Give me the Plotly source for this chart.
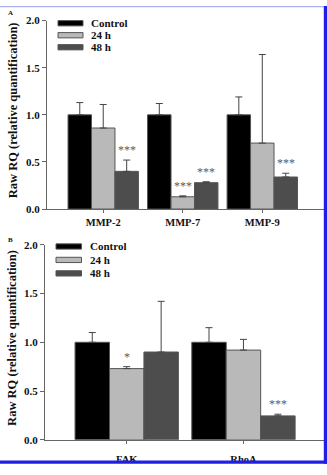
import plotly.graph_objects as go

W, H = 327, 475

# ---------------- data ----------------
series_names = ["Control", "24 h", "48 h"]
series_colors = ["#000000", "#b9b9b9", "#4d4d4d"]

cats_a = ["MMP-2", "MMP-7", "MMP-9"]
vals_a = [[1.00, 1.00, 1.00], [0.86, 0.13, 0.70], [0.40, 0.28, 0.34]]
errs_a = [[0.13, 0.12, 0.19], [0.25, 0.01, 0.94], [0.12, 0.01, 0.04]]
sig_a = [["", "", ""], ["", "***", ""], ["***", "***", "***"]]

cats_b = ["FAK", "RhoA"]
vals_b = [[1.00, 1.00], [0.73, 0.92], [0.90, 0.245]]
errs_b = [[0.10, 0.15], [0.02, 0.11], [0.52, 0.017]]
sig_b = [["", ""], ["*", ""], ["", "***"]]

yticks = [0, 0.5, 1.0, 1.5, 2.0]
ytitle = "Raw RQ (relative quantification)"
panel_labels = ["A", "B"]

FONT = "Liberation Serif"
AXC = "#666666"


def px(x):
    return x / W


def py(y):
    return 1 - y / H


fig = go.Figure()
annotations = []
shapes = []

bargap = 0.115
bw = (1 - bargap) / 3

panels = [
    dict(cats=cats_a, vals=vals_a, errs=errs_a, sig=sig_a, xa="x", ya="y"),
    dict(cats=cats_b, vals=vals_b, errs=errs_b, sig=sig_b, xa="x2", ya="y2"),
]

for p in panels:
    for i, name in enumerate(series_names):
        fig.add_trace(go.Bar(
            x=p["cats"], y=p["vals"][i], name=name,
            xaxis=p["xa"], yaxis=p["ya"], showlegend=False,
            marker=dict(color=series_colors[i], line=dict(color="#555555", width=1)),
            error_y=dict(type="data", symmetric=False, array=p["errs"][i],
                         arrayminus=[0] * len(p["cats"]), color="#444444",
                         thickness=1, width=3.5),
        ))
        for j, c in enumerate(p["cats"]):
            s = p["sig"][i][j]
            if s:
                annotations.append(dict(
                    x=j + (i - 1) * bw, y=p["vals"][i][j] + p["errs"][i][j],
                    xref=p["xa"], yref=p["ya"], text=s, showarrow=False,
                    yanchor="bottom", yshift=1,
                    font=dict(family=FONT, size=12, color="#5a5a5a")))

axis_common = dict(showline=True, linecolor=AXC, linewidth=1, showgrid=False,
                   zeroline=False, ticks="outside", tickcolor=AXC,
                   tickfont=dict(family=FONT, size=11, color="#111111", weight="bold"))

fig.update_layout(
    width=W, height=H, margin=dict(l=0, r=0, t=0, b=0),
    paper_bgcolor="white", plot_bgcolor="white",
    barmode="group", bargap=bargap, bargroupgap=0,
    xaxis=dict(domain=[px(47), px(324)], anchor="y", type="category",
               range=[-0.707, 2.776], ticklen=3, **axis_common),
    yaxis=dict(domain=[py(208.3), py(15)], anchor="x", range=[0, 2],
               tickvals=yticks, tickformat=".1f", ticklen=4, **axis_common),
    xaxis2=dict(domain=[px(45), px(324)], anchor="y2", type="category",
                range=[-0.70, 1.69], ticklen=3, **axis_common),
    yaxis2=dict(domain=[py(445), py(245)], anchor="x2", range=[0, 2],
                tickvals=yticks, tickformat=".1f", ticklen=4, **axis_common),
)
fig.update_xaxes(tickfont=dict(family=FONT, size=10.5, color="#111111", weight="bold"))
fig.update_layout(xaxis=dict(ticklabelstandoff=0), xaxis2=dict(ticklabelstandoff=7))

# y-axis titles
for yc in (107.5, 341):
    annotations.append(dict(x=px(12.5), y=py(yc), xref="paper", yref="paper",
                            xanchor="center", yanchor="middle",
                            text=ytitle, textangle=-90, showarrow=False,
                            font=dict(family=FONT, size=12.5, color="#111111", weight="bold")))

# panel labels
for lab, (lx, ly) in zip(panel_labels, [(11, 7), (10, 240)]):
    annotations.append(dict(x=px(lx), y=py(ly), xref="paper", yref="paper",
                            xanchor="center", yanchor="middle",
                            text=lab, showarrow=False,
                            font=dict(family=FONT, size=7, color="#111111", weight="bold")))

# manual legends
for (x0, x1, ys) in [(58, 83, [17.7, 30, 42.3]), (56, 81.5, [246.7, 260.5, 274.3])]:
    for i, name in enumerate(series_names):
        shapes.append(dict(type="rect", xref="paper", yref="paper",
                           x0=px(x0), x1=px(x1), y0=py(ys[i] + 2.7), y1=py(ys[i] - 2.7),
                           fillcolor=series_colors[i], line=dict(color="#555555", width=1)))
        annotations.append(dict(x=px(x1 + 6), y=py(ys[i]), xref="paper", yref="paper",
                                text=name, showarrow=False, xanchor="left", yanchor="middle",
                                font=dict(family=FONT, size=11, color="#111111", weight="bold")))

# blue frame
BLUE = "#1e1ee6"
shapes.append(dict(type="rect", xref="paper", yref="paper", x0=px(0), x1=px(327),
                   y0=py(1.2), y1=py(0), fillcolor="#a9b4f0", line=dict(width=0), layer="above"))
shapes.append(dict(type="rect", xref="paper", yref="paper", x0=px(323.8), x1=px(327),
                   y0=py(469.6), y1=py(0), fillcolor=BLUE, line=dict(width=0), layer="above"))
shapes.append(dict(type="rect", xref="paper", yref="paper", x0=px(0), x1=px(327),
                   y0=py(469.6), y1=py(466.4), fillcolor=BLUE, line=dict(width=0), layer="above"))

fig.update_layout(annotations=annotations, shapes=shapes)
fig.write_html("out.html")
